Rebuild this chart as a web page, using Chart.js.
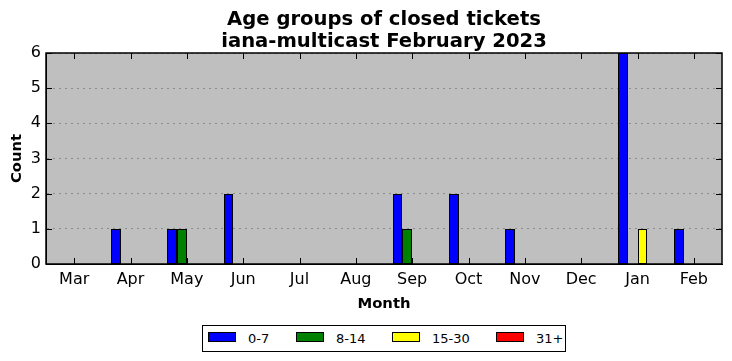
<!DOCTYPE html>
<html>
<head>
<meta charset="utf-8">
<script src="https://cdn.jsdelivr.net/npm/chart.js@4/dist/chart.umd.min.js"></script>
<style>
  html, body { margin: 0; padding: 0; background: #fff; }
  #wrap { position: relative; width: 732px; height: 361px; }
  #legend {
    position: absolute; left: 202px; top: 325px; width: 362px; height: 25px;
    border: 1px solid #000; background: #fff; box-sizing: content-box;
    font-family: "DejaVu Sans", sans-serif; font-size: 13px; color: #000;
  }
  .item { position: absolute; top: 0; height: 25px; }
  .sw { position: absolute; top: 6px; left: 0; width: 26px; height: 8px; border: 1px solid #000; }
  .lb { position: absolute; left: 40px; top: 0; line-height: 25px; white-space: nowrap; }
</style>
</head>
<body>
<div id="wrap">
  <canvas id="c" width="732" height="361"></canvas>
  <div id="legend"></div>
</div>
<script>
const months = ["Mar","Apr","May","Jun","Jul","Aug","Sep","Oct","Nov","Dec","Jan","Feb"];
const seriesNames = ["0-7","8-14","15-30","31+"];
const seriesColors = ["#0000ff","#008000","#ffff00","#ff0000"];
const age0to7   = [0,1,1,2,0,0,2,2,1,0,6,1];
const age8to14  = [0,0,1,0,0,0,1,0,0,0,0,0];
const age15to30 = [0,0,0,0,0,0,0,0,0,0,1,0];
const age31plus = [0,0,0,0,0,0,0,0,0,0,0,0];
const yTicks = [0,1,2,3,4,5,6];

const seriesData = [age0to7, age8to14, age15to30, age31plus];

const legendEl = document.getElementById('legend');
const legendX = [5, 93, 189, 293];
seriesNames.forEach((n, i) => {
  const it = document.createElement('div');
  it.className = 'item';
  it.style.left = legendX[i] + 'px';
  it.innerHTML = '<span class="sw" style="background:' + seriesColors[i] + '"></span><span class="lb">' + n + '</span>';
  legendEl.appendChild(it);
});

// snap bar edges (computed by Chart.js scales) to whole pixels for crisp outlines
const snapPlugin = {
  id: 'snap',
  afterDatasetsUpdate(chart) {
    chart.data.datasets.forEach((d, i) => {
      chart.getDatasetMeta(i).data.forEach(el => {
        const l = Math.round(el.x - el.width / 2);
        const r = Math.round(el.x + el.width / 2);
        el.x = (l + r) / 2;
        el.width = r - l;
        el.y = Math.round(el.y);
        el.base = Math.round(el.base);
      });
    });
  }
};

const bgPlugin = {
  id: 'bg',
  beforeDraw(chart) {
    const a = chart.chartArea, ctx = chart.ctx;
    ctx.save();
    ctx.fillStyle = '#bfbfbf';
    ctx.fillRect(a.left, a.top, a.right - a.left, a.bottom - a.top);
    ctx.restore();
  },
  afterDraw(chart) {
    const a = chart.chartArea, ctx = chart.ctx;
    const xs = chart.scales.x, ys = chart.scales.y;
    ctx.save();
    ctx.strokeStyle = '#000';
    ctx.lineWidth = 1;
    ctx.beginPath();
    for (let i = 0; i < months.length; i++) {
      const px = Math.round(xs.getPixelForTick(i)) + 0.5;
      ctx.moveTo(px, a.bottom); ctx.lineTo(px, a.bottom - 6);
      ctx.moveTo(px, a.top); ctx.lineTo(px, a.top + 6);
    }
    yTicks.forEach(v => {
      const py = Math.round(ys.getPixelForValue(v)) + 0.5;
      ctx.moveTo(a.left, py); ctx.lineTo(a.left + 6, py);
      ctx.moveTo(a.right, py); ctx.lineTo(a.right - 6, py);
    });
    ctx.stroke();
    ctx.lineWidth = 1.5;
    ctx.strokeRect(a.left, a.top, a.right - a.left, a.bottom - a.top);
    ctx.restore();
  }
};

new Chart(document.getElementById('c'), {
  type: 'bar',
  data: {
    labels: months,
    datasets: seriesNames.map((n, i) => ({
      label: n,
      data: seriesData[i],
      backgroundColor: seriesColors[i],
      borderColor: '#000',
      borderWidth: 1,
      borderSkipped: false,
      inflateAmount: 0,
      categoryPercentage: 0.69,
      barPercentage: 1.0
    }))
  },
  options: {
    responsive: false,
    animation: false,
    devicePixelRatio: 1,
    layout: { padding: { left: 0, right: 10, top: 0, bottom: 44 } },
    plugins: {
      legend: { display: false },
      tooltip: { enabled: false },
      title: {
        display: true,
        fullSize: false,
        text: ["Age groups of closed tickets", "iana-multicast February 2023"],
        color: '#000',
        font: { family: 'DejaVu Sans', size: 19.6, weight: 'bold', lineHeight: '22px' },
        padding: { top: 9, bottom: 0 }
      }
    },
    scales: {
      x: {
        grid: { display: false, drawTicks: false },
        border: { display: true, color: '#000', width: 1 },
        ticks: { color: '#000', font: { family: 'DejaVu Sans', size: 16 }, padding: 6, maxRotation: 0 },
        title: { display: true, text: 'Month', color: '#000', font: { family: 'DejaVu Sans', size: 14.8, weight: 'bold' }, padding: { top: 4, bottom: 4 } },
        afterFit(s) { s.height = 53; }
      },
      y: {
        min: 0, max: 6,
        afterBuildTicks(s) { s.ticks = yTicks.map(v => ({ value: v })); },
        grid: { display: true, drawTicks: false, color: '#8c8c8c', lineWidth: 1 },
        border: { display: true, color: '#000', width: 1, dash: [2, 4] },
        ticks: { color: '#000', font: { family: 'DejaVu Sans', size: 16 }, padding: 5 },
        title: { display: true, text: 'Count', color: '#000', font: { family: 'DejaVu Sans', size: 14.8, weight: 'bold' }, padding: { top: 8, bottom: 4 } },
        afterFit(s) { s.width = 46; }
      }
    }
  },
  plugins: [snapPlugin, bgPlugin]
});
</script>
</body>
</html>
